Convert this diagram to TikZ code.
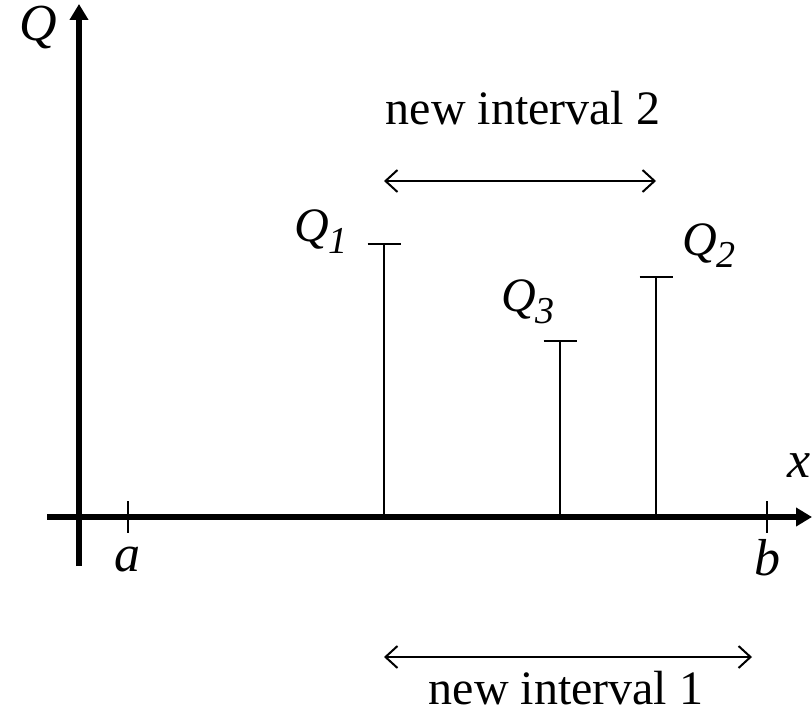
\documentclass[tikz,border=0pt]{standalone}
\usepackage{fontspec}
\setmainfont{Liberation Serif}
\usetikzlibrary{arrows.meta, positioning, calc}

\newcommand{\qlab}[1]{\textit{Q}\raisebox{-0.25em}{\fontsize{19}{20}\selectfont\textit{#1}}}

\begin{document}
\begin{tikzpicture}[
    x=0.5pt, y=-0.5pt,
    every node/.style={font=\fontsize{24}{28}\selectfont, inner sep=0pt},
    varlabel/.style={font=\fontsize{26}{30}\selectfont\itshape},
    axis/.style={
        line width=2.6pt,
        -{Triangle[length=8pt,width=9pt]}
    },
    tick/.style={line width=1pt},
    stem/.style={line width=1pt},
    interval/.style={
        line width=1pt,
        {Straight Barb[length=6pt,width=11pt]}-{Straight Barb[length=6pt,width=11pt]}
    }
]
\useasboundingbox (0,0) rectangle (812,721);

% axes
\coordinate (ybot) at (79,566);
\coordinate (ytop) at (79,4);
\coordinate (xleft) at (47,517);
\coordinate (xright) at (812,517);
\draw[axis] (ybot) -- (ytop);
\draw[axis] (xleft) -- (xright);
\node[varlabel] (ylab) at (38,28) {Q};
\node[varlabel] (xlab) at (799,466) {x};

% end points of the interval
\coordinate (a) at (128,517);
\coordinate (b) at (767,517);
\draw[tick] ([yshift=8pt]a) -- ([yshift=-8pt]a);
\draw[tick] ([yshift=8pt]b) -- ([yshift=-8pt]b);
\node[varlabel] (alab) at (127,560) {a};
\node[varlabel] (blab) at (767,558) {b};

% function values
\coordinate (q1base) at (384,517);
\coordinate (q1top) at (384,244);
\coordinate (q3base) at (560,517);
\coordinate (q3top) at (560,341);
\coordinate (q2base) at (656,517);
\coordinate (q2top) at (656,277);
\foreach \q in {q1,q2,q3} {
    \draw[stem] (\q base) -- (\q top);
    \draw[stem] ([xshift=-8.25pt]\q top) -- ([xshift=8.25pt]\q top);
}
\node (lq1) at (321,232) {\qlab{1}};
\node (lq3) at (528,302) {\qlab{3}};
\node (lq2) at (709,246) {\qlab{2}};

% new intervals
\coordinate (i2left) at (384,181);
\coordinate (i2right) at (656,181);
\draw[interval] (i2left) -- (i2right);
\node (i2lab) at (523,108) {new interval 2};

\coordinate (i1left) at (384,657);
\coordinate (i1right) at (752,657);
\draw[interval] (i1left) -- (i1right);
\node (i1lab) at (566,688) {new interval 1};
\end{tikzpicture}
\end{document}
